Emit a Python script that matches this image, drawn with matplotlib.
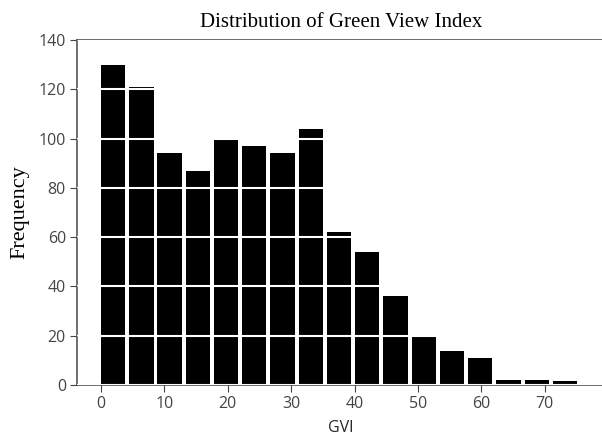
import matplotlib
matplotlib.use("Agg")
import matplotlib.pyplot as plt
import numpy as np

# histogram counts, 17 bins from 0 to ~75.7
counts = [130, 121, 94, 87, 100, 97, 94, 104, 62, 54, 36, 20, 14, 11, 2, 2, 1.5]
gvi_min = 0.0
gvi_max = 75.7
x_ticks = [0, 10, 20, 30, 40, 50, 60, 70]
y_ticks = [0, 20, 40, 60, 80, 100, 120, 140]

edges = np.linspace(gvi_min, gvi_max, len(counts) + 1)
binw = edges[1] - edges[0]

fig = plt.figure(figsize=(6.02, 4.34), dpi=100)
ax = fig.add_axes([77 / 602, 1 - 385 / 434, (605 - 77) / 602, (385 - 40) / 434])

ax.bar(edges[:-1], counts, width=binw * 0.86, align="edge", color="black",
       edgecolor="none", zorder=2)

ax.set_xlim(gvi_min - 0.05 * gvi_max, gvi_max * 1.05)
ax.set_ylim(0, 140)
ax.set_xticks(x_ticks)
ax.set_yticks(y_ticks)

ax.grid(axis="y", color="white", linewidth=1.5, zorder=3)
ax.set_axisbelow(False)

tick_font = "Open Sans"
for lab in ax.get_xticklabels() + ax.get_yticklabels():
    lab.set_fontfamily(tick_font)
    lab.set_fontsize(11.5)
    lab.set_color("#262626")
ax.tick_params(colors="#444444", length=5, pad=3)
for side in ["left", "bottom", "top"]:
    ax.spines[side].set_color("#555555")
    ax.spines[side].set_linewidth(1.2)
ax.spines["right"].set_visible(False)

ax.set_xlabel("GVI", fontfamily=tick_font, fontsize=11.5, color="#262626")
ax.xaxis.set_label_coords(0.5, -0.1)
ax.set_ylabel("Frequency", fontfamily="Liberation Serif", fontsize=16)
ax.yaxis.set_label_coords(-0.09, 0.5)
ax.set_title("Distribution of Green View Index", fontfamily="Liberation Serif",
             fontsize=15, pad=9)

fig.savefig("out.png", dpi=100)
